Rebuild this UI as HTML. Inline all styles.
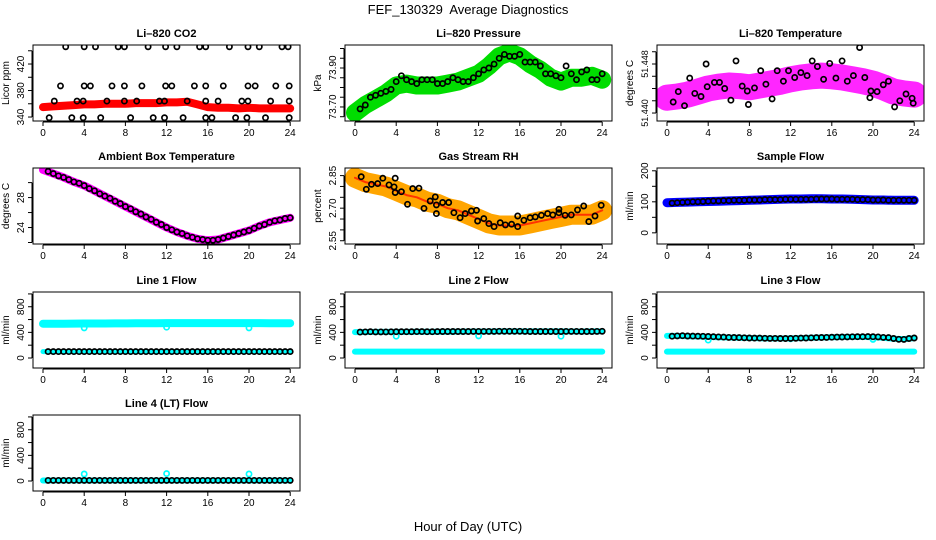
<!DOCTYPE html>
<html><head><meta charset="utf-8"><style>
html,body{margin:0;padding:0;background:#fff;}
svg{display:block;font-family:"Liberation Sans",sans-serif;}
</style></head><body>
<svg id="chart" width="936" height="540" viewBox="0 0 936 540" xmlns="http://www.w3.org/2000/svg">
<rect x="0" y="0" width="936" height="540" fill="#fff"/>
<text x="468" y="14" text-anchor="middle" font-size="13">FEF_130329&#160; Average Diagnostics</text>
<text x="468" y="531" text-anchor="middle" font-size="13">Hour of Day (UTC)</text>
</svg>
<script>
const hours = [0,1,2,3,4,5,6,7,8,9,10,11,12,13,14,15,16,17,18,19,20,21,22,23,24];
const halfHours = [0.5,1,1.5,2,2.5,3,3.5,4,4.5,5,5.5,6,6.5,7,7.5,8,8.5,9,9.5,10,10.5,11,11.5,12,12.5,13,13.5,14,14.5,15,15.5,16,16.5,17,17.5,18,18.5,19,19.5,20,20.5,21,21.5,22,22.5,23,23.5,24];
const xTicks = [0,4,8,12,16,20,24];

const co2Band = [355,356,357,358,359,359,360,360,360,361,361,361,362,362,363,359,355,354,354,353,354,353,353,353,353];
const co2Times = [2.2,4,5.1,7.3,7.9,10.2,11.9,13,15.2,15.8,18.1,19.9,21,23.2,23.8,1.7,4,4.6,6.7,7.9,9.6,11.9,12.5,14.7,15.8,17.5,19.9,20.6,22.6,23.9,1.1,3.3,3.9,6.2,7.9,9.1,11.3,11.8,14,15.8,17,19.3,19.9,22.1,23.9,0.6,2.8,3.9,5.6,8.5,10.7,11.8,13.6,15.8,16.4,18.7,19.8,21.6,23.9];
const co2Vals = [446,446,446,446,446,446,446,446,446,446,446,446,446,446,446,387,387,387,387,387,387,387,387,387,387,387,387,387,387,387,364,364,364,364,364,364,364,364,364,364,364,364,364,364,364,339,339,339,339,339,339,339,339,339,339,339,339,339,339];

const presBand = [73.67,73.71,73.74,73.77,73.81,73.82,73.81,73.81,73.81,73.82,73.83,73.85,73.87,73.91,73.96,73.98,73.96,73.92,73.89,73.85,73.83,73.85,73.85,73.86,73.84];
const presPts = [73.69,73.71,73.75,73.76,73.77,73.78,73.79,73.83,73.86,73.84,73.83,73.82,73.84,73.84,73.84,73.82,73.82,73.83,73.85,73.84,73.83,73.83,73.85,73.87,73.89,73.90,73.92,73.95,73.97,73.96,73.96,73.97,73.93,73.93,73.93,73.91,73.87,73.87,73.86,73.85,73.91,73.87,73.84,73.88,73.89,73.84,73.84,73.87];

const tempBand = [51.4425,51.4427,51.4430,51.4435,51.4440,51.4443,51.4445,51.4444,51.4442,51.4445,51.4448,51.4451,51.4455,51.4458,51.4460,51.4461,51.4460,51.4458,51.4455,51.4452,51.4448,51.4442,51.4435,51.4432,51.4430];
const tempTimes = [0.6,1.1,1.7,2.2,2.7,3.3,3.8,3.9,4.6,5.1,5.6,6.2,6.7,7.3,7.8,7.9,8.5,9.1,9.6,10.2,10.7,11.3,11.8,12.4,13,13.6,14.1,14.6,15.2,15.8,16.4,17,17.5,18.1,18.7,19.2,19.7,19.8,20.4,21,21.5,22.1,22.6,23.2,23.8,23.9];
const tempVals = [51.4418,51.4435,51.4412,51.4457,51.4432,51.4427,51.4480,51.4443,51.4450,51.4450,51.4440,51.4421,51.4485,51.4444,51.4436,51.4414,51.4441,51.4469,51.4447,51.4423,51.4469,51.4452,51.4469,51.4458,51.4466,51.4461,51.4485,51.4476,51.4455,51.4481,51.4457,51.4485,51.4452,51.4461,51.4507,51.4458,51.4425,51.4436,51.4435,51.4446,51.4452,51.4410,51.4420,51.4431,51.4424,51.4416];

const ambBand = [31.7,31.2,30.7,30.1,29.6,28.9,28.2,27.5,26.8,26.1,25.4,24.7,24.0,23.4,22.9,22.5,22.3,22.4,22.8,23.2,23.6,24.2,24.7,25.0,25.3];
const ambPts = [31.5,31.2,30.9,30.7,30.4,30.1,29.9,29.6,29.2,28.9,28.5,28.2,27.9,27.5,27.2,26.8,26.5,26.1,25.8,25.4,25.1,24.7,24.4,24.0,23.7,23.4,23.2,22.9,22.7,22.5,22.4,22.3,22.3,22.4,22.6,22.8,23.0,23.2,23.4,23.6,23.9,24.2,24.4,24.7,24.9,25.0,25.2,25.3];

const rhBand = [2.84,2.82,2.81,2.80,2.78,2.76,2.75,2.73,2.72,2.70,2.69,2.67,2.65,2.63,2.62,2.62,2.62,2.63,2.64,2.65,2.66,2.67,2.67,2.67,2.69];
const rhTimes = [0.6,1.1,1.6,2.2,2.7,3.3,3.9,3.8,3.9,4.5,5.1,5.6,6.2,6.7,7.3,7.8,7.9,7.9,8.5,9.1,9.6,10.2,10.7,11.3,11.8,11.9,12.5,13,13.5,14.1,14.6,15.2,15.8,15.8,16.4,17,17.5,18.1,18.7,19.2,19.8,19.8,20.4,21,21.6,22.2,22.7,23.3,23.9];
const rhVals = [2.845,2.787,2.810,2.813,2.838,2.807,2.838,2.798,2.772,2.776,2.718,2.790,2.792,2.699,2.733,2.752,2.675,2.715,2.726,2.726,2.679,2.656,2.675,2.687,2.690,2.641,2.652,2.629,2.615,2.633,2.623,2.626,2.615,2.664,2.644,2.656,2.660,2.667,2.675,2.669,2.695,2.679,2.667,2.669,2.692,2.710,2.638,2.664,2.713];

const sfBand = [97,98,99,100,101,102,103,104,105,106,107,108,109,109,110,110,109,109,108,107,106,106,105,105,105];
const sfPts = [96,97,98,99,100,100,101,102,103,103,104,104,105,105,105,106,106,106,107,107,107,107,108,108,108,108,108,108,109,109,109,109,108,108,108,108,107,107,107,106,106,106,105,105,105,105,105,105];

const l1High = [535,535,536,537,538,538,539,540,540,541,542,543,544,544,545,545,545,545,545,544,544,544,543,543,543];
const l1Low = [100,100,100,100,100,100,100,100,100,100,100,100,100,100,100,100,100,100,100,100,100,100,100,100,100];
const l1Black = [100,100,100,100,100,100,100,100,100,100,100,100,100,100,100,100,100,100,100,100,100,100,100,100,100,100,100,100,100,100,100,100,100,100,100,100,100,100,100,100,100,100,100,100,100,100,100,100];
const outTimes = [4,12,20];
const l1Out = [470,480,470];

const l2High = [405,406,407,407,408,408,409,410,410,411,412,413,414,414,415,415,415,415,415,415,415,414,414,415,415];
const l2Low = [100,100,100,100,100,100,100,100,100,100,100,100,100,100,100,100,100,100,100,100,100,100,100,100,100];
const l2Black = [405,408,410,408,407,408,409,410,410,410,411,412,412,411,411,412,413,413,414,414,414,414,415,415,415,415,415,416,416,416,416,417,415,414,414,414,414,414,414,414,415,415,415,414,413,414,415,416];
const l2Out = [340,345,340];

const l3High = [345,345,340,335,330,325,320,315,312,308,305,305,306,310,315,320,325,328,330,330,325,315,300,295,310];
const l3Low = [100,100,100,100,100,100,100,100,100,100,100,100,100,100,100,100,100,100,100,100,100,100,100,100,100];
const l3Black = [340,345,348,344,342,340,338,335,332,330,326,322,320,318,315,312,310,310,308,306,306,305,305,306,307,310,312,315,318,320,322,325,326,328,330,331,332,333,334,332,330,322,318,305,292,290,305,312];
const l3Out = [280,300,290];

const l4High = [8,8,8,8,8,8,8,8,8,8,8,8,8,8,8,8,8,8,8,8,8,8,8,8,8];
const l4Black = [10,10,10,10,10,10,10,10,10,10,10,10,10,10,10,10,10,10,10,10,10,10,10,10,10,10,10,10,10,10,10,10,10,10,10,10,10,10,10,10,10,10,10,10,10,10,10,10];
const l4Out = [110,115,110];

const NS = 'http://www.w3.org/2000/svg';
const svg = document.getElementById('chart');
const rowTops = [45,168,292,415];
const BOX_H = 76, BOX_W = 267;

function mk(tag, attrs, parent) {
  const e = document.createElementNS(NS, tag);
  for (const k in attrs) e.setAttribute(k, attrs[k]);
  (parent || svg).appendChild(e);
  return e;
}

function makePanel(col, row, name, title, ylab, ymin, ymax, ticks, labels, lfs) {
  const left = 33 + 312 * col, top = rowTops[row];
  const g = mk('g', {});
  
  
  const xs = t => left + 10 + t * 10.3;
  const ys = v => top + (ymax - v) / (ymax - ymin) * BOX_H;
  const clip = mk('clipPath', {id: 'clip-' + name}, g);
  mk('rect', {x: left, y: top, width: BOX_W, height: BOX_H}, clip);
  const plot = mk('g', {'clip-path': 'url(#clip-' + name + ')'}, g);
  
  
  const box = mk('rect', {x: left, y: top, width: BOX_W, height: BOX_H, fill: 'none', stroke: '#000', 'stroke-width': 1}, g);
  
  
  const tt = mk('text', {x: left + BOX_W / 2, y: top - 8, 'text-anchor': 'middle', 'font-size': 11, 'font-weight': 'bold'}, g);
  tt.textContent = title;
  
  
  const yl = mk('text', {x: left - 24, y: top + BOX_H / 2, 'text-anchor': 'middle', 'font-size': 10, transform: 'rotate(-90 ' + (left - 24) + ' ' + (top + BOX_H / 2) + ')'}, g);
  yl.textContent = ylab;
  
  
  const xa = mk('g', {}, g);
  
  
  mk('line', {x1: xs(0), x2: xs(24), y1: top + BOX_H + 1, y2: top + BOX_H + 1, stroke: '#000'}, xa);
  xTicks.forEach(t => {
    mk('line', {x1: xs(t), x2: xs(t), y1: top + BOX_H + 1, y2: top + BOX_H + 5, stroke: '#000'}, xa);
    const tl = mk('text', {x: xs(t), y: top + BOX_H + 15, 'text-anchor': 'middle', 'font-size': 10}, xa);
    tl.textContent = t;
    
    
  });
  const ya = mk('g', {}, g);
  
  
  mk('line', {x1: left - 1, x2: left - 1, y1: ys(ticks[0]), y2: ys(ticks[ticks.length - 1]), stroke: '#000'}, ya);
  ticks.forEach(v => {
    mk('line', {x1: left - 5, x2: left - 1, y1: ys(v), y2: ys(v), stroke: '#000'}, ya);
  });
  labels.forEach(lb => {
    const yy = ys(parseFloat(lb));
    const tl = mk('text', {x: left - 9, y: yy, 'text-anchor': 'middle', 'font-size': lfs || 10, transform: 'rotate(-90 ' + (left - 9) + ' ' + yy + ')'}, ya);
    tl.textContent = lb;
    
    
  });
  return {plot, xs, ys};
}

function band(p, times, vals, color, width, nm, op) {
  const pts = times.map((t, i) => p.xs(t).toFixed(1) + ',' + p.ys(vals[i]).toFixed(1)).join(' ');
  const pl = mk('polyline', {points: pts, fill: 'none', stroke: color, 'stroke-width': width, 'stroke-linejoin': 'round', 'stroke-linecap': 'round', 'stroke-opacity': op || 1}, p.plot);
  
  
}
function circles(p, times, vals, color, nm, r) {
  const g = mk('g', {}, p.plot);
  
  
  times.forEach((t, i) => {
    const c = mk('circle', {cx: p.xs(t).toFixed(1), cy: p.ys(vals[i]).toFixed(1), r: r || 2.6, fill: 'none', stroke: color, 'stroke-width': 1.7}, g);
    
    
  });
}

let p = makePanel(0, 0, 'co2', 'Li\u2013820 CO2', 'Licor ppm', 334, 448.7, [340,360,380,400,420,440], ['340','380','420']);
band(p, hours, co2Band, '#ff0000', 8, 'co2-dense-series');
circles(p, co2Times, co2Vals, '#000', 'co2-average');

p = makePanel(1, 0, 'pressure', 'Li\u2013820 Pressure', 'kPa', 73.628, 74.018, [73.65,73.70,73.75,73.80,73.85,73.90,73.95,74.00], ['73.70','73.90']);
band(p, hours, presBand, '#00dd00', 18, 'pressure-dense-series');
circles(p, halfHours, presPts, '#000', 'pressure-average');

p = makePanel(2, 0, 'li820-temp', 'Li\u2013820 Temperature', 'degrees C', 51.4387, 51.4511, [51.440,51.442,51.444,51.446,51.448,51.450], ['51.440','51.448'], 9);
band(p, hours, tempBand, '#ff00ff', 26, 'li820-temp-dense-series', 0.85);
circles(p, tempTimes, tempVals, '#000', 'li820-temp-average');

p = makePanel(0, 1, 'ambient-temp', 'Ambient Box Temperature', 'degrees C', 21.8, 31.95, [22,24,26,28,30], ['24','28']);
band(p, hours, ambBand, '#ff00ff', 8, 'ambient-temp-dense-series');
circles(p, halfHours, ambPts, '#000', 'ambient-temp-average');

p = makePanel(1, 1, 'rh', 'Gas Stream RH', 'percent', 2.535, 2.885, [2.55,2.60,2.65,2.70,2.75,2.80,2.85], ['2.55','2.70','2.85']);
band(p, hours, rhBand, '#ffa500', 20, 'rh-dense-series');
band(p, hours, rhBand, '#ff3300', 2, 'rh-dense-speckle');
circles(p, rhTimes, rhVals, '#000', 'rh-average');

p = makePanel(2, 1, 'sample-flow', 'Sample Flow', 'ml/min', -36, 209, [0,50,100,150,200], ['0','100','200']);
band(p, hours, sfBand, '#0000ff', 9, 'sample-flow-dense-series');
circles(p, halfHours, sfPts, '#000', 'sample-flow-average');

const flowTicks = [0,200,400,600,800,1000];
const flowLabels = ['0','400','800'];
p = makePanel(0, 2, 'line1', 'Line 1 Flow', 'ml/min', -156, 1030, flowTicks, flowLabels);
band(p, hours, l1High, '#00ffff', 8, 'line1-dense-high');
band(p, hours, l1Low, '#00ffff', 5, 'line1-dense-low');
circles(p, outTimes, l1Out, '#00ffff', 'line1-outliers');
circles(p, halfHours, l1Black, '#000', 'line1-average');

p = makePanel(1, 2, 'line2', 'Line 2 Flow', 'ml/min', -156, 1030, flowTicks, flowLabels);
band(p, hours, l2High, '#00ffff', 6, 'line2-dense-high');
band(p, hours, l2Low, '#00ffff', 6, 'line2-dense-low');
circles(p, outTimes, l2Out, '#00ffff', 'line2-outliers');
circles(p, halfHours, l2Black, '#000', 'line2-average');

p = makePanel(2, 2, 'line3', 'Line 3 Flow', 'ml/min', -156, 1030, flowTicks, flowLabels);
band(p, hours, l3High, '#00ffff', 6, 'line3-dense-high');
band(p, hours, l3Low, '#00ffff', 6, 'line3-dense-low');
circles(p, outTimes, l3Out, '#00ffff', 'line3-outliers');
circles(p, halfHours, l3Black, '#000', 'line3-average');

p = makePanel(0, 3, 'line4', 'Line 4 (LT) Flow', 'ml/min', -156, 1030, flowTicks, flowLabels);
band(p, hours, l4High, '#00ffff', 6, 'line4-dense-series');
circles(p, outTimes, l4Out, '#00ffff', 'line4-outliers');
circles(p, halfHours, l4Black, '#000', 'line4-average');
</script>
</body></html>
